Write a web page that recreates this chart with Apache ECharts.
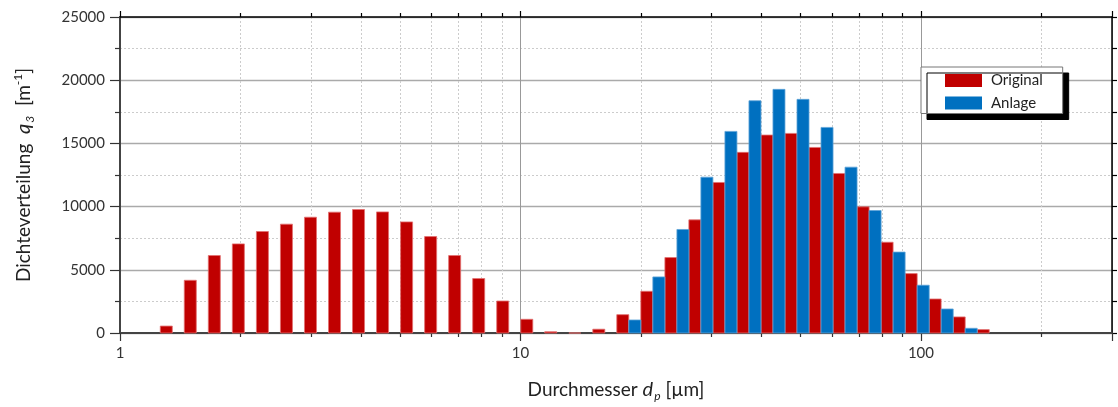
<!DOCTYPE html>
<html>
<head>
<meta charset="utf-8">
<script src="https://cdn.jsdelivr.net/npm/echarts@6/dist/echarts.min.js"></script>
<style>
  html, body { margin: 0; padding: 0; background: #fff; }
  #chart { width: 1118px; height: 407px; }
</style>
</head>
<body>
<div id="chart"></div>
<script>
// Particle size classes (bin centres, µm) and density distribution q3 (1/m)
const diameterOriginal = [
  1.305, 1.498, 1.720, 1.975, 2.268, 2.604, 2.990, 3.433, 3.941, 4.525,
  5.196, 5.966, 6.850, 7.865, 9.030, 10.37, 11.90, 13.67, 15.69, 18.01,
  20.68, 23.75, 27.26, 31.30, 35.94, 41.26, 47.37, 54.39, 62.44, 71.70,
  82.32, 94.54, 108.5, 124.6, 143.1
];
const q3Original = [
  550, 4170, 6130, 7050, 8030, 8610, 9160, 9560, 9770, 9580,
  8790, 7630, 6130, 4310, 2530, 1085, 100, 0, 300, 1450,
  3300, 5970, 8950, 11910, 14290, 15660, 15790, 14680, 12620, 9980,
  7180, 4700, 2690, 1270, 270
];
const diameterAnlage = [
  19.30, 22.16, 25.45, 29.21, 33.54, 38.51, 44.21, 50.76, 58.28, 66.91,
  76.83, 88.21, 101.3, 116.3, 133.5
];
const q3Anlage = [
  1030, 4435, 8190, 12330, 15950, 18375, 19275, 18485, 16265, 13120,
  9690, 6400, 3780, 1900, 372
];
const seriesNames = ['Original', 'Anlage'];
const xTickLabels = [1, 10, 100];
const yTicks = { min: 0, max: 25000, step: 5000 };

const FONT = 'Lato, "Open Sans", sans-serif';
const RED = '#c00000';
const BLUE = '#0070c0';
// each bar covers half a size class on the logarithmic axis
const BAR_SPAN = Math.pow(10, 0.015);

function pairs(xs, ys) { return xs.map((x, i) => [x, ys[i]]); }

function barRenderer(fill, edge) {
  return function (params, api) {
    const d = api.value(0), v = api.value(1);
    const p0 = api.coord([d / BAR_SPAN, v]);
    const p1 = api.coord([d * BAR_SPAN, 0]);
    return {
      type: 'rect',
      shape: { x: p0[0], y: p0[1], width: p1[0] - p0[0], height: p1[1] - p0[1] },
      style: { fill: fill, stroke: edge, lineWidth: 0.8 }
    };
  };
}

function isMajor(v) {
  return xTickLabels.some(t => Math.abs(v - t) / t < 1e-6);
}

const chart = echarts.init(document.getElementById('chart'), null, { renderer: 'canvas' });

const xBase = {
  type: 'log', logBase: 10, min: 1, max: 300, gridIndex: 0
};

chart.setOption({
  animation: false,
  backgroundColor: '#fff',
  textStyle: { fontFamily: FONT },
  grid: { left: 120, right: 6, top: 17, bottom: 74, containLabel: false },
  legend: {
    data: seriesNames.map(n => ({ name: n, icon: 'rect' })),
    orient: 'vertical',
    left: 921, top: 67,
    padding: [6, 20, 3, 24],
    itemWidth: 37, itemHeight: 13, itemGap: 7.5,
    backgroundColor: '#fff',
    borderColor: '#777', borderWidth: 1,
    shadowColor: '#000', shadowBlur: 0, shadowOffsetX: 6, shadowOffsetY: 6,
    selectedMode: false,
    textStyle: { fontFamily: FONT, fontSize: 15, color: '#222', padding: [0, 0, 0, 4] }
  },
  xAxis: [
    Object.assign({}, xBase, {
      position: 'bottom',
      name: '{n|Durchmesser }{i|d}{sub|p}{n| [µm]}',
      nameLocation: 'middle', nameGap: 45,
      nameTextStyle: {
        rich: {
          n: { fontFamily: FONT, fontSize: 19, color: '#222' },
          i: { fontFamily: FONT, fontSize: 20, fontStyle: 'italic', color: '#222' },
          sub: { fontFamily: FONT, fontSize: 12, fontStyle: 'italic', color: '#222', padding: [12, 0, 0, 1] }
        }
      },
      axisLine: { show: true, onZero: false, lineStyle: { color: '#444', width: 2 } },
      axisTick: { show: true, inside: false, length: 8, lineStyle: { color: '#333', width: 1.2 } },
      minorTick: { show: true, splitNumber: 9, length: 4, lineStyle: { color: '#333', width: 1.2 } },
      axisLabel: {
        show: true, margin: 13, fontSize: 15, color: '#333', fontFamily: FONT,
        formatter: v => (isMajor(v) ? String(Math.round(v)) : '')
      },
      splitLine: { show: true, lineStyle: { color: '#999', width: 1 } },
      minorSplitLine: { show: true, lineStyle: { color: '#ccc', width: 1, type: [2, 2] } }
    }),
    Object.assign({}, xBase, {
      position: 'top',
      axisLine: { show: true, onZero: false, lineStyle: { color: '#000', width: 1.5 } },
      axisTick: { show: true, inside: false, length: 6, lineStyle: { color: '#000', width: 1.2 } },
      minorTick: { show: true, splitNumber: 9, length: 4, lineStyle: { color: '#000', width: 1.2 } },
      axisLabel: { show: false },
      splitLine: { show: false },
      minorSplitLine: { show: false }
    })
  ],
  yAxis: [
    {
      type: 'value', position: 'left',
      min: yTicks.min, max: yTicks.max, interval: yTicks.step,
      name: '{n|Dichteverteilung  }{i|q}{sub|3}{n|  [m}{sup|-1}{n|]}',
      nameLocation: 'middle', nameGap: 84, nameRotate: 90,
      nameTextStyle: {
        rich: {
          n: { fontFamily: FONT, fontSize: 19, color: '#222' },
          i: { fontFamily: FONT, fontSize: 20, fontStyle: 'italic', color: '#222' },
          sub: { fontFamily: FONT, fontSize: 12, fontStyle: 'italic', color: '#222', padding: [12, 0, 0, 1] },
          sup: { fontFamily: FONT, fontSize: 12, color: '#222', padding: [0, 0, 12, 0] }
        }
      },
      axisLine: { show: true, onZero: false, lineStyle: { color: '#444', width: 2 } },
      axisTick: { show: true, inside: false, length: 10, lineStyle: { color: '#333', width: 1.2 } },
      minorTick: { show: true, splitNumber: 2, length: 5, lineStyle: { color: '#333', width: 1.2 } },
      axisLabel: {
        margin: 15, fontSize: 15, color: '#333', fontFamily: FONT,
        formatter: v => String(v)
      },
      splitLine: { show: true, lineStyle: { color: '#aaa', width: 1.3 } },
      minorSplitLine: { show: true, lineStyle: { color: '#ccc', width: 1, type: [2, 2] } }
    },
    {
      type: 'value', position: 'right',
      min: yTicks.min, max: yTicks.max, interval: yTicks.step,
      axisLine: { show: true, onZero: false, lineStyle: { color: '#000', width: 1.5 } },
      axisTick: { show: true, inside: false, length: 5, lineStyle: { color: '#000', width: 1.2 } },
      minorTick: { show: true, splitNumber: 2, length: 5, lineStyle: { color: '#000', width: 1.2 } },
      axisLabel: { show: false },
      splitLine: { show: false },
      minorSplitLine: { show: false }
    }
  ],
  series: [
    {
      name: seriesNames[0], type: 'custom',
      xAxisIndex: 0, yAxisIndex: 0,
      itemStyle: { color: RED },
      encode: { x: 0, y: 1 },
      data: pairs(diameterOriginal, q3Original),
      renderItem: barRenderer(RED, '#e27070'),
      z: 3
    },
    {
      name: seriesNames[1], type: 'custom',
      xAxisIndex: 0, yAxisIndex: 0,
      itemStyle: { color: BLUE },
      encode: { x: 0, y: 1 },
      data: pairs(diameterAnlage, q3Anlage),
      renderItem: barRenderer(BLUE, '#5ea3d8'),
      z: 3
    }
  ]
});
</script>
</body>
</html>
